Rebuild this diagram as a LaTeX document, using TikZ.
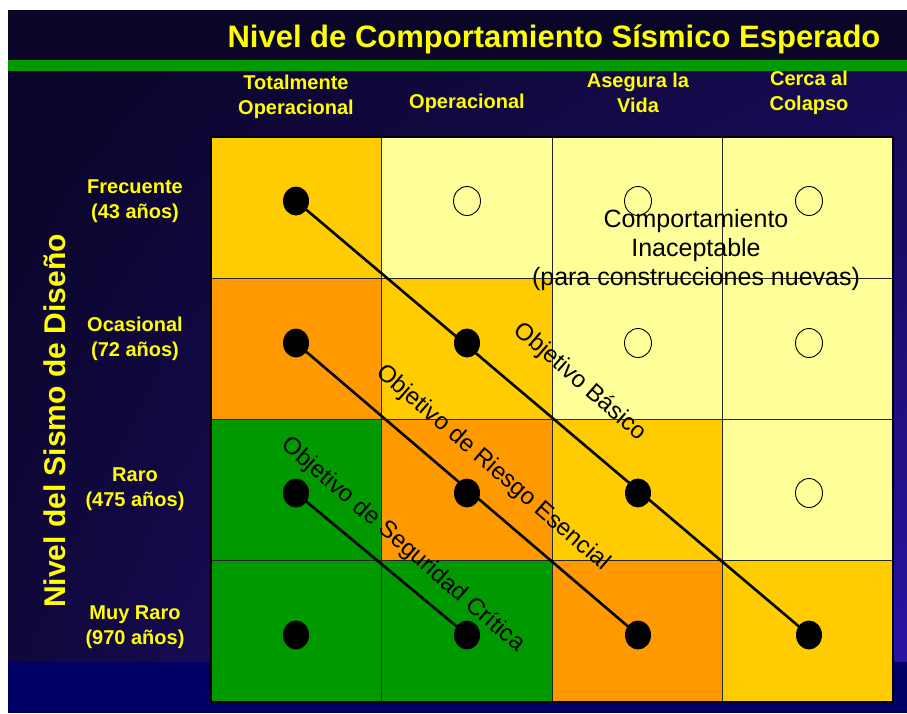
\documentclass[tikz,border=0pt]{standalone}
\usepackage{fontspec}
\setmainfont{Liberation Sans}
\usepackage{tikz}
\usetikzlibrary{positioning,shadings,shapes.geometric}
\usepackage{xcolor}

\definecolor{oro}{HTML}{FFCC00}
\definecolor{naranja}{HTML}{FF9900}
\definecolor{verde}{HTML}{009900}
\definecolor{crema}{HTML}{FFFF99}
\definecolor{amarillo}{HTML}{FFFF00}
\definecolor{fondo}{HTML}{0A0628}
\definecolor{marino}{HTML}{000066}
\definecolor{fondoA}{RGB}{10,5,40}
\definecolor{fondoB}{RGB}{22,10,80}
\definecolor{fondoC}{RGB}{16,8,58}
\definecolor{fondoD}{RGB}{42,18,164}

\tikzset{
  celda/.style={draw=black!85, line width=1pt},
  punto/.style={ellipse, fill=black, inner sep=0pt, minimum width=26pt, minimum height=29pt},
  hueco/.style={ellipse, draw=black, line width=0.9pt, inner sep=0pt, minimum width=27pt, minimum height=29pt},
  linea/.style={line width=2.6pt},
  titulo/.style={text=amarillo, font=\bfseries\fontsize{31}{34}\selectfont},
  encabezado/.style={text=amarillo, align=center, font=\bfseries\fontsize{20}{25}\selectfont},
  objetivo/.style={font=\fontsize{24}{28}\selectfont, rotate=-41},
}

\begin{document}
\begin{tikzpicture}[x=1pt, y=-1pt]
\useasboundingbox (0,0) rectangle (907,713);

% Background
\fill[white] (0,0) rectangle (907,713);
\fill[fondo] (8,10) rectangle (907,60);
\fill[verde] (8,60) rectangle (907,71);
\shade[upper left=fondoA, upper right=fondoB, lower left=fondoC, lower right=fondoD]
  (8,71) rectangle (907,662);
\fill[marino] (8,662) rectangle (907,713);

% Title
\node[titulo] (titulo) at (554,39) {Nivel de Comportamiento Sísmico Esperado};

% Column headers
\node[encabezado] (col1) at (296,97) {Totalmente\\Operacional};
\node[encabezado] (col2) at (467,103) {Operacional};
\node[encabezado] (col3) at (638,93) {Asegura la\\Vida};
\node[encabezado] (col4) at (809,93) {Cerca al\\Colapso};

% Row headers
\node[encabezado] (fila1) at (135,201) {Frecuente\\(43 años)};
\node[encabezado] (fila2) at (135,339) {Ocasional\\(72 años)};
\node[encabezado] (fila3) at (135,489) {Raro\\(475 años)};
\node[encabezado] (fila4) at (135,627) {Muy Raro\\(970 años)};
\node[titulo, rotate=90, font=\bfseries\fontsize{30}{34}\selectfont] (nivel) at (55,421) {Nivel del Sismo de Diseño};

% Grid of performance cells
\foreach \c/\f/\col in {1/1/oro, 2/1/crema, 3/1/crema, 4/1/crema,
                        1/2/naranja, 2/2/oro, 3/2/crema, 4/2/crema,
                        1/3/verde, 2/3/naranja, 3/3/oro, 4/3/crema,
                        1/4/verde, 2/4/verde, 3/4/naranja, 4/4/oro}
  \filldraw[celda, fill=\col] ({211+(\c-1)*170.5},{137+(\f-1)*141.25}) rectangle ++(170.5,141.25);
\draw[line width=1.4pt] (211,137) rectangle (893,702);

% Unacceptable points
\foreach \c/\f/\x/\y in {2/1/467/201, 3/1/638/201, 4/1/809/201, 3/2/638/343, 4/2/809/343, 4/3/809/493}
  \node[hueco] (p\c\f) at (\x,\y) {};

\node[align=center, font=\fontsize{25}{29}\selectfont] (inaceptable) at (696,250)
  {Comportamiento\\Inaceptable\\(para construcciones nuevas)};

% Design points
\foreach \c/\f/\x/\y in {1/1/296/201, 1/2/296/343, 2/2/467/343, 1/3/296/493, 2/3/467/493,
                        3/3/638/493, 1/4/296/635, 2/4/467/635, 3/4/638/635, 4/4/809/635}
  \node[punto] (p\c\f) at (\x,\y) {};

% Objective lines
\draw[linea] (p11.center) -- (p44.center);
\draw[linea] (p12.center) -- (p34.center);
\draw[linea] (p13.center) -- (p24.center);

% Objective labels
\node[objetivo] (basico) at (580,382) {Objetivo Básico};
\node[objetivo] (esencial) at (493,468) {Objetivo de Riesgo Esencial};
\node[objetivo] (critica) at (403,545) {Objetivo de Seguridad Crítica};
\end{tikzpicture}
\end{document}
